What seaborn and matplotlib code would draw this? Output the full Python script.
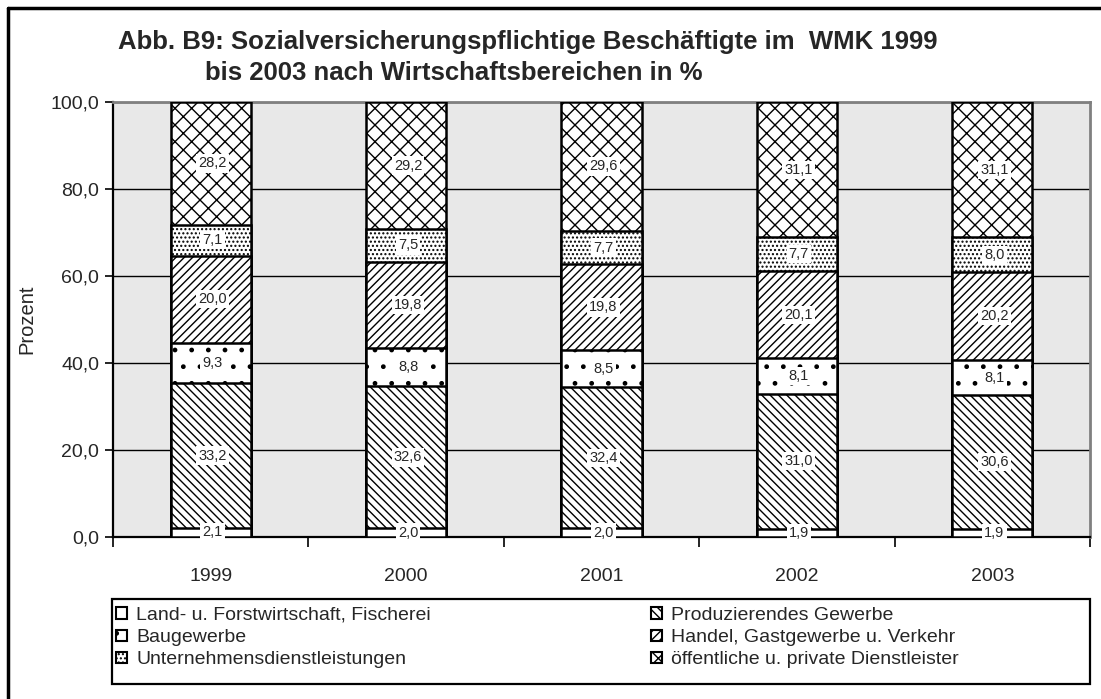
import numpy as np
import pandas as pd
import matplotlib
matplotlib.use("Agg")
import matplotlib.pyplot as plt
from matplotlib.patches import Patch, Rectangle
from matplotlib.lines import Line2D
import seaborn as sns

# ---- data ----
years = ["1999", "2000", "2001", "2002", "2003"]
categories = [
    "Land- u. Forstwirtschaft, Fischerei",
    "Produzierendes Gewerbe",
    "Baugewerbe",
    "Handel, Gastgewerbe u. Verkehr",
    "Unternehmensdienstleistungen",
    "öffentliche u. private Dienstleister",
]
land = [2.1, 2.0, 2.0, 1.9, 1.9]
produzierend = [33.2, 32.6, 32.4, 31.0, 30.6]
bau = [9.3, 8.8, 8.5, 8.1, 8.1]
handel = [20.0, 19.8, 19.8, 20.1, 20.2]
unternehmen = [7.1, 7.5, 7.7, 7.7, 8.0]
oeffentlich = [28.2, 29.2, 29.6, 31.1, 31.1]
series = [land, produzierend, bau, handel, unternehmen, oeffentlich]
yticks = [0, 20, 40, 60, 80, 100]

hatches = ["", "\\\\\\\\", ".", "////", "....", "xx"]

sns.set_theme(style="white", rc={"hatch.linewidth": 1.0})
plt.rcParams["font.family"] = ["Liberation Sans", "DejaVu Sans"]

fig = plt.figure(figsize=(11.01, 6.99), dpi=100)
W, H = 1101, 699
left, right, top, bottom = 113, 1090, 102, 537
ax = fig.add_axes([left / W, 1 - bottom / H, (right - left) / W, (bottom - top) / H])
ax.set_facecolor("#E8E8E8")

vals = np.array(series, dtype=float)
shares = vals / vals.sum(axis=0) * 100.0  # 100% stacked
cum = np.cumsum(shares, axis=0)

# draw from top layer downward, each lower cumulative bar overlays the previous
for i in range(len(series) - 1, -1, -1):
    df = pd.DataFrame({"Jahr": years, "Wert": cum[i]})
    sns.barplot(data=df, x="Jahr", y="Wert", color="white", saturation=1,
                width=0.41, edgecolor="black", linewidth=1.8,
                hatch=hatches[i], ax=ax, zorder=3)

# value labels
for i, s in enumerate(series):
    for j, v in enumerate(s):
        y = cum[i][j] - shares[i][j] / 2
        ax.text(j + 0.01, y, f"{v:.1f}".replace(".", ","), ha="center", va="center",
                fontsize=10.5, zorder=5,
                bbox=dict(boxstyle="square,pad=0.15", fc="white", ec="none"))

ax.set_xlim(-0.5, 4.5)
ax.set_ylim(0, 100)
ax.set_yticks(yticks)
ax.set_yticklabels([f"{t:.1f}".replace(".", ",") for t in yticks], fontsize=14)
ax.yaxis.grid(True, color="black", linewidth=1.0, zorder=0)
ax.set_axisbelow(True)
ax.tick_params(axis="y", which="major", direction="out", length=6, width=1.2,
               color="black", left=True, pad=4)
ax.set_xticks(range(len(years)))
ax.set_xticklabels(years, fontsize=14)
ax.set_xticks(np.arange(-0.5, 5.0, 1.0), minor=True)
ax.tick_params(axis="x", which="major", length=0, pad=22)
ax.tick_params(axis="x", which="minor", direction="out", length=7, width=1.2,
               color="black", bottom=True)
ax.set_xlabel("")
ax.set_ylabel("Prozent", fontsize=14.5, labelpad=10)

for side in ["left", "bottom"]:
    ax.spines[side].set_color("black")
    ax.spines[side].set_linewidth(1.6)
for side in ["top", "right"]:
    ax.spines[side].set_color("#808080")
    ax.spines[side].set_linewidth(2.0)
    ax.spines[side].set_visible(True)

# title
fig.text(118 / W, 1 - 42 / H,
         "Abb. B9: Sozialversicherungspflichtige Beschäftigte im  WMK 1999",
         fontsize=18.5, fontweight="bold", ha="left", va="center")
fig.text(205 / W, 1 - 73 / H, "bis 2003 nach Wirtschaftsbereichen in %",
         fontsize=18.5, fontweight="bold", ha="left", va="center")

# legend frame
fig.add_artist(Rectangle((112 / W, 1 - 684 / H), (1090 - 112) / W, 85 / H,
                         transform=fig.transFigure, fill=False,
                         edgecolor="black", linewidth=1.6))
# legend
order = [0, 2, 4, 1, 3, 5]
handles = [Patch(facecolor="white", edgecolor="black", linewidth=1.5,
                 hatch=hatches[k], label=categories[k]) for k in order]
leg = fig.legend(handles=handles, ncol=2, loc="upper left",
                 bbox_to_anchor=(116 / W, 1 - 607 / H),
                 fontsize=14, frameon=False,
                 handlelength=0.55, handleheight=0.55, handletextpad=0.5,
                 labelspacing=0.27, borderpad=0.0, borderaxespad=0,
                 columnspacing=11.3)

# outer border (top and left)
fig.add_artist(Line2D([8 / W, 1.0], [1 - 8 / H, 1 - 8 / H], color="black",
                      linewidth=2.5, transform=fig.transFigure))
fig.add_artist(Line2D([8 / W, 8 / W], [0, 1 - 8 / H], color="black",
                      linewidth=2.5, transform=fig.transFigure))

fig.savefig("out.png", dpi=100)
